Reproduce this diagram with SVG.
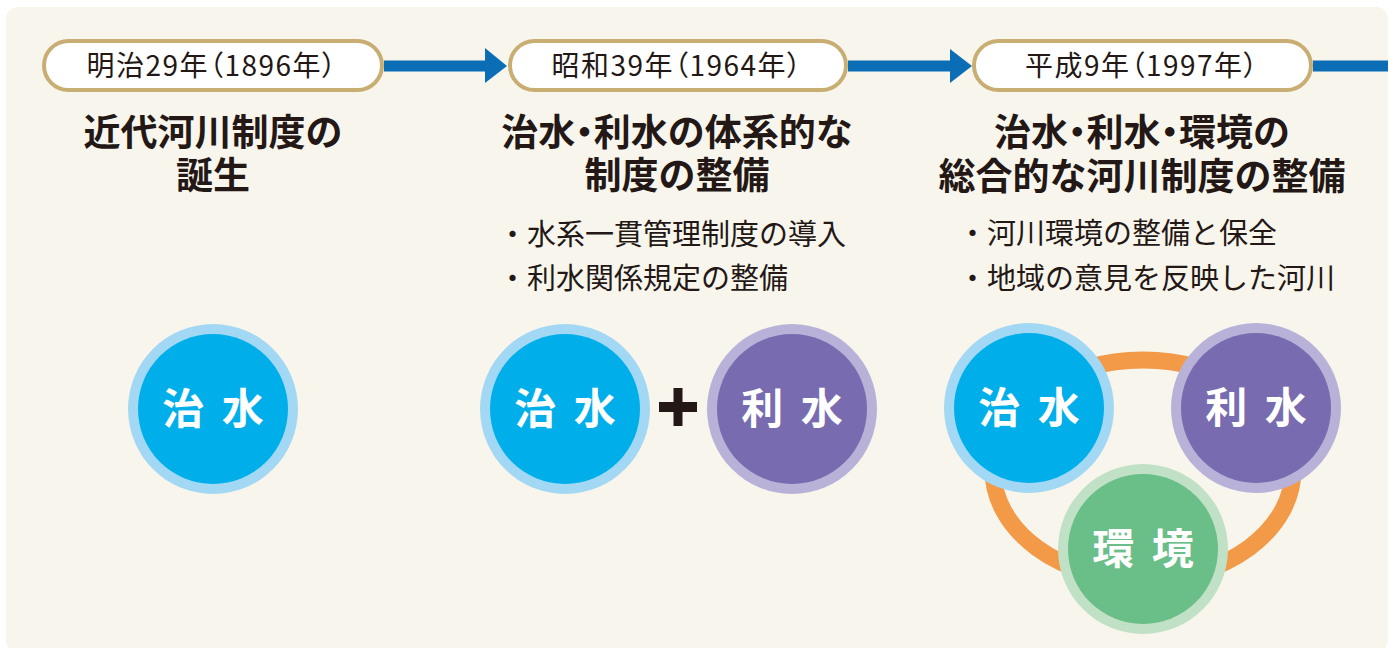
<svg xmlns="http://www.w3.org/2000/svg" width="1394" height="648" viewBox="0 0 1394 648">
<style>
  .pill{fill:#ffffff;stroke:#c9ae74;stroke-width:4}
  .ptxt{font-family:"Noto Sans CJK JP","Noto Sans",sans-serif;font-size:28px;fill:#231815;text-anchor:middle;font-feature-settings:"palt";letter-spacing:1.5px}
  .title{font-family:"Noto Sans CJK JP","Noto Sans",sans-serif;font-size:37px;font-weight:bold;fill:#231815;text-anchor:middle}
  .dot{font-feature-settings:"palt"}
  .bul{font-family:"Noto Sans CJK JP","Noto Sans",sans-serif;font-size:29px;fill:#231815}
  .clab{font-family:"Noto Sans CJK JP","Noto Sans",sans-serif;font-size:42px;font-weight:bold;fill:#ffffff;text-anchor:middle;letter-spacing:4px}
  .conn{stroke:#0a6db6;stroke-width:11;fill:none}
  .head{fill:#0a6db6}
  .blueR{fill:#a3d8f4}.blueI{fill:#00afea}
  .purR{fill:#b9b2d8}.purI{fill:#786bb0}
  .grnR{fill:#c1e1c6}.grnI{fill:#6abe87}
</style>
<rect x="0" y="0" width="1394" height="648" fill="#ffffff"/>
<rect x="6" y="7" width="1382" height="645" rx="12" fill="#f8f5ed"/>

<g id="connectors">
  <line class="conn" x1="384" y1="66" x2="487" y2="66"/>
  <polygon class="head" points="485,48 507,66 485,83"/>
  <line class="conn" x1="848" y1="66" x2="952" y2="66"/>
  <polygon class="head" points="950,49 972,66 950,83"/>
  <line class="conn" x1="1313" y1="66" x2="1388" y2="66"/>
  <ellipse cx="1143" cy="470" rx="150" ry="110" fill="none" stroke="#f29a47" stroke-width="17"/>
</g>

<g id="era1">
  <rect class="pill" x="44" y="41" width="338" height="49" rx="24.5"/>
  <text class="ptxt" x="212" y="76">明治29年（1896年）</text>
</g>
<g id="era2">
  <rect class="pill" x="510" y="41" width="336" height="49" rx="24.5"/>
  <text class="ptxt" x="677" y="76">昭和39年（1964年）</text>
</g>
<g id="era3">
  <rect class="pill" x="974" y="41" width="337" height="49" rx="24.5"/>
  <text class="ptxt" x="1142" y="76">平成9年（1997年）</text>
</g>

<g id="title1">
  <text class="title" x="213" y="146">近代河川制度の</text>
  <text class="title" x="213" y="189">誕生</text>
</g>
<g id="title2">
  <text class="title" x="677" y="146">治水<tspan class="dot">・</tspan>利水の体系的な</text>
  <text class="title" x="677" y="189">制度の整備</text>
  <text class="bul" x="498" y="245">・水系一貫管理制度の導入</text>
  <text class="bul" x="498" y="289">・利水関係規定の整備</text>
</g>
<g id="title3">
  <text class="title" x="1142" y="146">治水<tspan class="dot">・</tspan>利水<tspan class="dot">・</tspan>環境の</text>
  <text class="title" x="1142" y="190">総合的な河川制度の整備</text>
  <text class="bul" x="958" y="244">・河川環境の整備と保全</text>
  <text class="bul" x="958" y="289">・地域の意見を反映した河川</text>
</g>

<g id="c1-chisui">
  <circle class="blueR" cx="213" cy="409" r="85"/>
  <circle class="blueI" cx="213" cy="409" r="75"/>
  <text class="clab" x="215" y="424">治 水</text>
</g>

<g id="c2-chisui">
  <circle class="blueR" cx="565" cy="409" r="85"/>
  <circle class="blueI" cx="565" cy="409" r="75"/>
  <text class="clab" x="567" y="424">治 水</text>
</g>
<g id="plus">
  <rect x="659" y="402" width="38" height="10" fill="#231815"/>
  <rect x="673.5" y="388" width="9" height="38" fill="#231815"/>
</g>
<g id="c2-risui">
  <circle class="purR" cx="792" cy="409" r="85"/>
  <circle class="purI" cx="792" cy="409" r="75"/>
  <text class="clab" x="794" y="424">利 水</text>
</g>

<g id="c3-chisui">
  <circle class="blueR" cx="1029" cy="408" r="85"/>
  <circle class="blueI" cx="1029" cy="408" r="75"/>
  <text class="clab" x="1031" y="423">治 水</text>
</g>
<g id="c3-risui">
  <circle class="purR" cx="1256" cy="408" r="85"/>
  <circle class="purI" cx="1256" cy="408" r="75"/>
  <text class="clab" x="1258" y="423">利 水</text>
</g>
<g id="c3-kankyo">
  <circle class="grnR" cx="1143" cy="549" r="85"/>
  <circle class="grnI" cx="1143" cy="549" r="75"/>
  <text class="clab" x="1145" y="564">環 境</text>
</g>
</svg>
